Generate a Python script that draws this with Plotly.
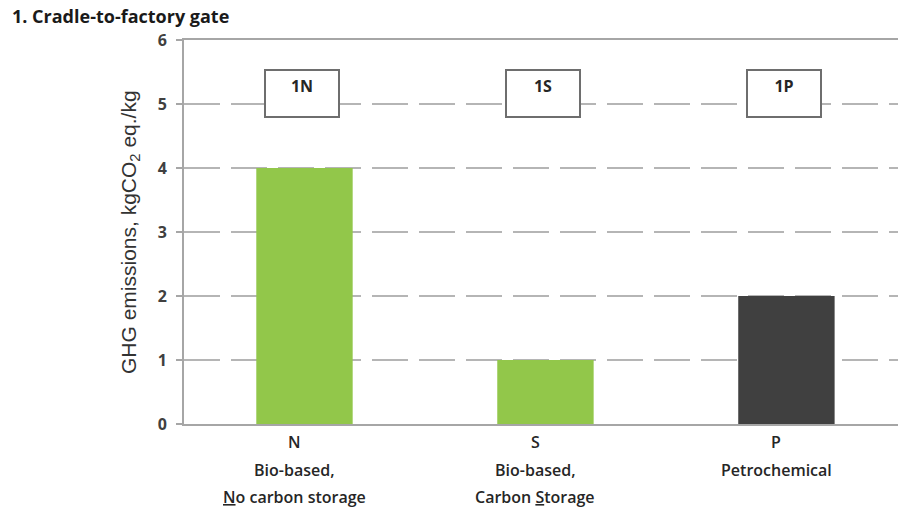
import plotly.graph_objects as go

# Cradle-to-factory-gate GHG emissions per product route
codes = ["N", "S", "P"]
scenario_ids = ["1N", "1S", "1P"]
descriptions = [
    ["Bio-based,", "<u>N</u>o carbon storage"],
    ["Bio-based,", "Carbon <u>S</u>torage"],
    ["Petrochemical"],
]
emissions = [4, 1, 2]
bar_colors = ["#92C74A", "#92C74A", "#404040"]
y_ticks = [0, 1, 2, 3, 4, 5, 6]

x_pos = list(range(len(codes)))

fig = go.Figure(
    go.Bar(
        x=x_pos,
        y=emissions,
        width=0.4,
        marker=dict(color=bar_colors, line=dict(width=0)),
        showlegend=False,
    )
)

label_font = dict(family="Open Sans", size=16, color="#262626", weight=600)

annotations = []
# category labels under the axis, one line each
for i, (code, desc) in enumerate(zip(codes, descriptions)):
    lines = [code] + desc
    for j, line in enumerate(lines):
        annotations.append(
            dict(
                x=i, y=0, xref="x", yref="y",
                text=line, showarrow=False,
                xanchor="center", yanchor="middle",
                xshift=-10, yshift=-18 - 27.5 * j,
                font=label_font,
            )
        )

# scenario boxes near the top of the plot
for i, sid in enumerate(scenario_ids):
    annotations.append(
        dict(
            x=i, y=5.16, xref="x", yref="y",
            text=sid, showarrow=False,
            xanchor="center", yanchor="middle",
            xshift=-2,
            width=64, height=37, valign="top",
            bgcolor="white", bordercolor="#6e6e6e", borderwidth=2, borderpad=4,
            font=dict(family="Open Sans", size=16, color="#262626", weight="bold"),
        )
    )

# y-axis title
annotations.append(
    dict(
        x=-0.0756, y=0.5, xref="paper", yref="paper",
        text="GHG emissions, kgCO<sub>2</sub> eq./kg",
        textangle=-90, showarrow=False,
        xanchor="center", yanchor="middle",
        font=dict(family="Liberation Sans", size=21, color="#333333"),
    )
)

# chart heading
annotations.append(
    dict(
        x=-184 / 714 + 10 / 714, y=1, xref="paper", yref="paper",
        yshift=24,
        text="1. Cradle-to-factory gate", showarrow=False,
        xanchor="left", yanchor="middle",
        font=dict(family="Open Sans", size=18, color="#1a1a1a", weight="bold"),
    )
)

fig.update_layout(
    width=898, height=507,
    margin=dict(l=184, r=0, t=40, b=83),
    paper_bgcolor="white", plot_bgcolor="white",
    annotations=annotations,
    bargap=0.6,
)

fig.update_xaxes(
    range=[-0.5, 2.463],
    tickvals=x_pos, showticklabels=False,
    showgrid=False, zeroline=False,
    showline=True, mirror=True, linecolor="#a6a6a6", linewidth=2,
    ticks="",
)

fig.update_yaxes(
    range=[0, 6], tickvals=y_ticks,
    showgrid=True, gridcolor="#b5b5b5", gridwidth=1.5, griddash="36px,11px",
    zeroline=False,
    showline=True, linecolor="#a6a6a6", linewidth=2,
    ticks="outside", ticklen=6, tickcolor="#a6a6a6", tickwidth=1.5,
    tickfont=dict(family="Open Sans", size=16, color="#404040", weight="bold"),
    ticklabelstandoff=6,
)

fig.write_html("out.html")
